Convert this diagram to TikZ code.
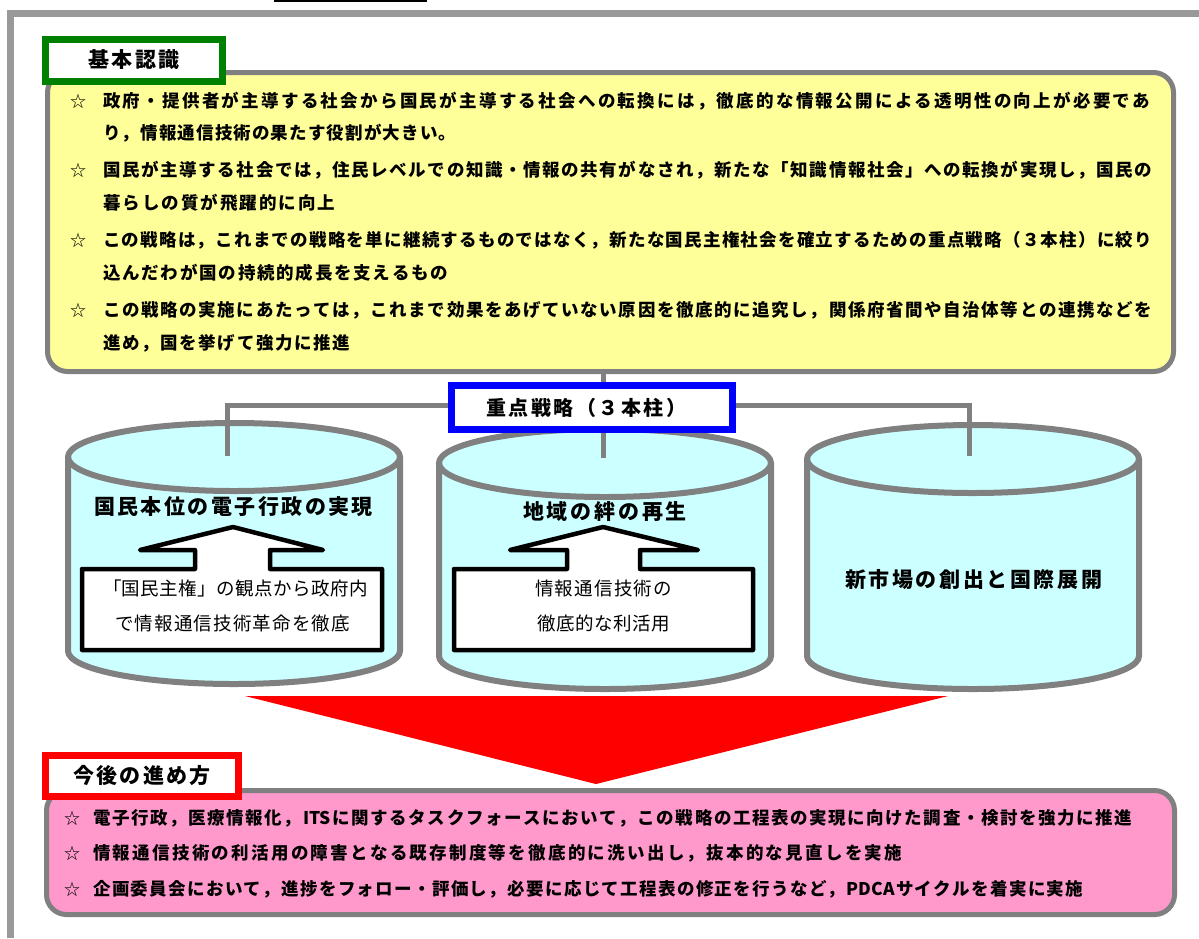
\documentclass[tikz,border=0pt]{standalone}
\usepackage{fontspec}
\setmainfont{Noto Sans CJK JP}
\definecolor{frameGray}{HTML}{999999}
\definecolor{boxGray}{HTML}{808080}
\definecolor{yellowFill}{HTML}{FFFF99}
\definecolor{pinkFill}{HTML}{FF99CC}
\definecolor{cylFill}{HTML}{CCFFFF}
\definecolor{tagGreen}{HTML}{008000}
\definecolor{tagBlue}{HTML}{0000FF}
\definecolor{tagRed}{HTML}{FF0000}
\def\spreadchars#1{\ifx\relax#1\else#1\hskip 0pt plus 1fil\expandafter\spreadchars\fi}
\newcommand\fitline[2]{\hbox to #1{\spreadchars#2\relax\hskip 0pt plus -1fil}}
\newcommand\bodyfont{\fontsize{17.5pt}{20pt}\selectfont\bfseries}
\newcommand\tagfont{\fontsize{21pt}{24pt}\selectfont\bfseries}
\newcommand\ctitlefont{\fontsize{21pt}{24pt}\selectfont\bfseries}
\newcommand\bluefont{\fontsize{20pt}{24pt}\selectfont\bfseries}
\newcommand\innerfont{\fontsize{18.5pt}{22pt}\selectfont}
\newcommand\starfont{\fontsize{16pt}{18pt}\selectfont}
\tikzset{
  conn/.style={draw=boxGray, line width=5pt},
  cylbody/.style={draw=boxGray, line width=6pt, fill=cylFill},
  cylrim/.style={draw=boxGray, line width=6pt},
  tag/.style={line width=7pt, fill=white, inner sep=0pt, font=\tagfont},
  roundbox/.style={draw=boxGray, line width=5pt, rounded corners=20pt, inner sep=0pt},
  body/.style={anchor=west, inner sep=0pt, font=\bodyfont},
  starmark/.style={inner sep=0pt, font=\starfont},
  ctitle/.style={inner sep=0pt, font=\ctitlefont},
  inner/.style={inner sep=0pt, font=\innerfont},
  blockarrow/.style={draw=black, line width=4.5pt, fill=white, line join=round},
}
\begin{document}
\begin{tikzpicture}[x=1pt,y=1pt]
\useasboundingbox (0,0) rectangle (1199,-938);
\fill[white] (0,0) rectangle (1199,-938);
% top short line and frame
\draw[line width=2pt] (274,-1) -- (427,-1);
\draw[draw=frameGray, line width=7pt] (10,-938) -- (10,-13) -- (1199,-13);

% yellow box
\node[roundbox, fill=yellowFill, minimum width=1126pt, minimum height=299pt] (kihon) at (610.5,-222) {};
\node[tag, draw=tagGreen, minimum width=177pt, minimum height=42pt] (kihontag) at (134,-60) {\fitline{92pt}{基本認識}};

\node[starmark] (s1) at (78,-101) {☆};
\node[starmark] (s2) at (78,-170) {☆};
\node[starmark] (s3) at (78,-240) {☆};
\node[starmark] (s4) at (78,-310) {☆};
\node[body] (y1) at (103,-101) {\fitline{1047pt}{政府・提供者が主導する社会から国民が主導する社会への転換には，徹底的な情報公開による透明性の向上が必要であ}};
\node[body] (y2) at (103,-133) {\fitline{353pt}{り，情報通信技術の果たす役割が大きい。}};
\node[body] (y3) at (103,-170) {\fitline{1049pt}{国民が主導する社会では，住民レベルでの知識・情報の共有がなされ，新たな「知識情報社会」への転換が実現し，国民の}};
\node[body] (y4) at (103,-203) {\fitline{232pt}{暮らしの質が飛躍的に向上}};
\node[body] (y5) at (103,-240) {\fitline{1049pt}{この戦略は，これまでの戦略を単に継続するものではなく，新たな国民主権社会を確立するための重点戦略（３本柱）に絞り}};
\node[body] (y6) at (103,-273) {\fitline{345pt}{込んだわが国の持続的成長を支えるもの}};
\node[body] (y7) at (103,-310) {\fitline{1049pt}{この戦略の実施にあたっては，これまで効果をあげていない原因を徹底的に追究し，関係府省間や自治体等との連携などを}};
\node[body] (y8) at (103,-343) {\fitline{247pt}{進め，国を挙げて強力に推進}};

% cylinders
\path[cylbody] (68,-457) -- (68,-651) arc[start angle=180, end angle=360, x radius=166pt, y radius=33pt] -- (400,-457) arc[start angle=0, end angle=180, x radius=166pt, y radius=34pt] -- cycle;
\draw[cylrim] (68,-457) arc[start angle=180, end angle=360, x radius=166pt, y radius=34pt];
\path[cylbody] (439,-463) -- (439,-656) arc[start angle=180, end angle=360, x radius=166pt, y radius=33pt] -- (771,-463) arc[start angle=0, end angle=180, x radius=166pt, y radius=34pt] -- cycle;
\draw[cylrim] (439,-463) arc[start angle=180, end angle=360, x radius=166pt, y radius=34pt];
\path[cylbody] (807,-459) -- (807,-656) arc[start angle=180, end angle=360, x radius=166pt, y radius=33pt] -- (1139,-459) arc[start angle=0, end angle=180, x radius=166pt, y radius=34pt] -- cycle;
\draw[cylrim] (807,-459) arc[start angle=180, end angle=360, x radius=166pt, y radius=34pt];

% block arrows
\draw[blockarrow] (82,-569) -- (195,-569) -- (195,-550) -- (140,-550) -- (233,-527) -- (323,-550) -- (270,-550) -- (270,-569) -- (382,-569) -- (382,-650) -- (82,-650) -- cycle;
\draw[blockarrow] (454,-569) -- (567,-569) -- (567,-550) -- (510,-550) -- (603,-527) -- (698,-550) -- (640,-550) -- (640,-569) -- (753,-569) -- (753,-650) -- (454,-650) -- cycle;

\node[ctitle] (t1) at (233.5,-507) {\fitline{279pt}{国民本位の電子行政の実現}};
\node[ctitle] (t2) at (605,-512) {\fitline{164pt}{地域の絆の再生}};
\node[ctitle] (t3) at (973.5,-580) {\fitline{257pt}{新市場の創出と国際展開}};

\node[inner] (b1a) at (235.5,-588) {\fitline{265pt}{「国民主権」の観点から政府内}};
\node[inner] (b1b) at (232.5,-623) {\fitline{235pt}{で情報通信技術革命を徹底}};
\node[inner] (b2a) at (603.5,-588) {\fitline{137pt}{情報通信技術の}};
\node[inner] (b2b) at (603.5,-623) {\fitline{133pt}{徹底的な利活用}};

% connectors
\coordinate (c1top) at (227,-456);
\coordinate (c2top) at (603,-458);
\coordinate (c3top) at (969,-456);
\coordinate (bar) at (0,-405);
\draw[conn] (c1top) -- (c1top |- bar) -- (c3top |- bar) -- (c3top);
\draw[conn] (c2top |- kihon.south) -- (c2top);
\node[tag, draw=tagBlue, font=\bluefont, minimum width=281pt, minimum height=44pt] (juten) at (592,-407.5) {\fitline{200pt}{重点戦略（３本柱）}\hspace*{12pt}};

% red triangle
\fill[tagRed] (245,-696) -- (948,-696) -- (596,-784) -- cycle;

% pink box
\node[roundbox, fill=pinkFill, minimum width=1128pt, minimum height=124pt] (kongo) at (610.5,-852.5) {};
\node[tag, draw=tagRed, minimum width=193pt, minimum height=41pt] (kongotag) at (142,-776) {\fitline{138pt}{今後の進め方}};
\node[starmark] (s5) at (72,-818) {☆};
\node[starmark] (s6) at (72,-853) {☆};
\node[starmark] (s7) at (72,-889) {☆};
\node[body] (p1) at (93,-818) {\fitline{1039pt}{電子行政，医療情報化，{ITS}に関するタスクフォースにおいて，この戦略の工程表の実現に向けた調査・検討を強力に推進}};
\node[body] (p2) at (93,-853) {\fitline{809pt}{情報通信技術の利活用の障害となる既存制度等を徹底的に洗い出し，抜本的な見直しを実施}};
\node[body] (p3) at (93,-889) {\fitline{990pt}{企画委員会において，進捗をフォロー・評価し，必要に応じて工程表の修正を行うなど，{PDCA}サイクルを着実に実施}};
\end{tikzpicture}
\end{document}
